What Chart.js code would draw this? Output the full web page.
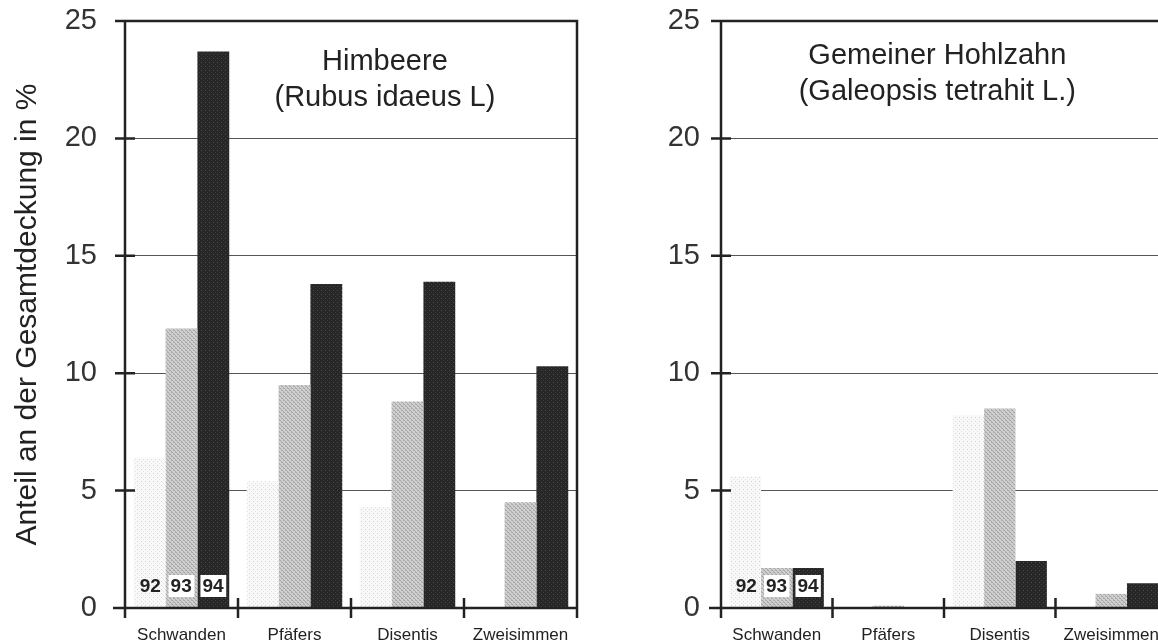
<!DOCTYPE html>
<html>
<head>
<meta charset="utf-8">
<script src="https://cdn.jsdelivr.net/npm/chart.js@4.4.0/dist/chart.umd.min.js"></script>
<style>
  html, body { margin: 0; padding: 0; background: #fff; overflow: hidden; }
  #wrap { position: relative; width: 1158px; height: 642px; overflow: hidden; }
  #leftBox { position: absolute; left: 0; top: 0; width: 590px; height: 642px; }
  #rightBox { position: absolute; left: 590px; top: 0; width: 590px; height: 642px; }
</style>
</head>
<body>
<div id="wrap">
  <div id="leftBox"><canvas id="himbeereChart"></canvas></div>
  <div id="rightBox"><canvas id="hohlzahnChart"></canvas></div>
</div>
<script>
// data (percent of total cover)
const sites = ["Schwanden", "Pfäfers", "Disentis", "Zweisimmen"];
const years = ["92", "93", "94"];
const yTicks = [0, 5, 10, 15, 20, 25];

const himbeere92 = [6.4, 5.4, 4.3, 0];
const himbeere93 = [11.9, 9.5, 8.8, 4.5];
const himbeere94 = [23.7, 13.8, 13.9, 10.3];

const hohlzahn92 = [5.6, 0, 8.2, 0];
const hohlzahn93 = [1.7, 0.1, 8.5, 0.6];
const hohlzahn94 = [1.7, 0, 2.0, 1.05];

const FONT = '"Liberation Sans", Arial, Helvetica, sans-serif';
Chart.defaults.font.family = FONT;
Chart.defaults.color = "#222";

function makePattern(bg, dots) {
  const c = document.createElement("canvas");
  c.width = 4; c.height = 4;
  const g = c.getContext("2d");
  g.fillStyle = bg;
  g.fillRect(0, 0, 4, 4);
  dots.forEach(d => {
    g.fillStyle = d[2];
    g.fillRect(d[0], d[1], 1, 1);
  });
  return g.createPattern(c, "repeat");
}

const fill92 = makePattern("#f8f8f8", [[1, 1, "#d6d6d6"], [3, 3, "#e2e2e2"]]);
const fill93 = makePattern("#d0d0d0", [[0, 0, "#a2a2a2"], [1, 1, "#acacac"], [2, 2, "#a2a2a2"], [3, 3, "#acacac"], [3, 0, "#b0b0b0"], [1, 2, "#b0b0b0"]]);
const fill94 = makePattern("#272727", [[1, 2, "#4a4a4a"], [3, 0, "#3c3c3c"]]);

const framePlugin = {
  id: "frame",
  afterDraw(chart) {
    const { ctx, chartArea: a } = chart;
    const x = chart.scales.x, y = chart.scales.y;
    ctx.save();
    ctx.strokeStyle = "#222";
    ctx.lineWidth = 2.5;
    ctx.beginPath();
    ctx.moveTo(a.left, a.top); ctx.lineTo(a.left, a.bottom + 10);
    ctx.moveTo(a.left - 12, a.bottom); ctx.lineTo(a.right, a.bottom);
    ctx.moveTo(a.left, a.top); ctx.lineTo(a.right, a.top); ctx.lineTo(a.right, a.bottom + 10);
    y.ticks.forEach((t, i) => {
      const py = y.getPixelForTick(i);
      ctx.moveTo(a.left - 10, py); ctx.lineTo(a.left + 10, py);
    });
    for (let i = 0; i <= x.ticks.length; i++) {
      const px = x.getPixelForValue(i - 0.5);
      ctx.moveTo(px, a.bottom - 10); ctx.lineTo(px, a.bottom + 10);
    }
    ctx.stroke();
    ctx.restore();
  }
};

const yearTagPlugin = {
  id: "yearTags",
  afterDatasetsDraw(chart) {
    const { ctx } = chart;
    const base = chart.scales.y.getPixelForValue(0);
    ctx.save();
    ctx.font = "bold 19px " + FONT;
    ctx.textBaseline = "middle";
    ctx.textAlign = "left";
    years.forEach((yr, i) => {
      const bar = chart.getDatasetMeta(i).data[0];
      const left = bar.x - bar.width / 2;
      ctx.save();
      if (i > 0) {
        ctx.fillStyle = "#fff";
        ctx.beginPath();
        ctx.rect(left + 3, base - 33, bar.width - 6, 22);
        ctx.fill();
        ctx.clip();
      }
      ctx.fillStyle = "#222";
      ctx.fillText(yr, left + (i > 0 ? 5 : 6), base - 21);
      ctx.restore();
    });
    ctx.restore();
  }
};

const titlePlugin = {
  id: "plotTitle",
  afterDraw(chart, args, opts) {
    const { ctx, chartArea: a } = chart;
    ctx.save();
    ctx.font = "29px " + FONT;
    ctx.fillStyle = "#222";
    ctx.textAlign = "center";
    ctx.textBaseline = "middle";
    const cx = a.left + (a.right - a.left) * opts.pos;
    opts.lines.forEach((t, i) => ctx.fillText(t, cx, opts.top + i * 36));
    ctx.restore();
  }
};

function buildChart(canvasId, d92, d93, d94, titleLines, titlePos, titleTop, axisWidth, labelPad, showTitle) {
  return new Chart(document.getElementById(canvasId), {
    type: "bar",
    data: {
      labels: sites,
      datasets: [
        { label: years[0], data: d92, backgroundColor: fill92 },
        { label: years[1], data: d93, backgroundColor: fill93 },
        { label: years[2], data: d94, backgroundColor: fill94 }
      ]
    },
    options: {
      responsive: true,
      maintainAspectRatio: false,
      animation: false,
      layout: { padding: { left: 0, right: 13, top: 21, bottom: 0 } },
      datasets: { bar: { categoryPercentage: 0.845, barPercentage: 1.0, borderWidth: 0 } },
      scales: {
        x: {
          grid: { display: false },
          border: { display: false },
          ticks: { font: { size: 17 }, color: "#222", padding: 9, maxRotation: 0 },
          afterFit: s => { s.height = 34; s.paddingLeft = 0; s.paddingRight = 0; }
        },
        y: {
          min: 0,
          max: 25,
          afterBuildTicks: s => { s.ticks = yTicks.map(v => ({ value: v })); },
          grid: {
            drawTicks: false,
            lineWidth: 1,
            color: c => (c.tick && (c.tick.value === 0 || c.tick.value === 25)) ? "rgba(0,0,0,0)" : "#555"
          },
          border: { display: false },
          ticks: { font: { size: 29 }, color: "#333", padding: labelPad },
          title: {
            display: showTitle,
            text: "Anteil an der Gesamtdeckung in %",
            font: { size: 30 },
            color: "#222",
            padding: { top: 10, bottom: 0 }
          },
          afterFit: s => { s.width = axisWidth; s.paddingTop = 0; s.paddingBottom = 0; }
        }
      },
      plugins: {
        legend: { display: false },
        tooltip: { enabled: false },
        plotTitle: { lines: titleLines, pos: titlePos, top: titleTop }
      }
    },
    plugins: [framePlugin, yearTagPlugin, titlePlugin]
  });
}

buildChart("himbeereChart", himbeere92, himbeere93, himbeere94,
  ["Himbeere", "(Rubus idaeus L)"], 0.575, 62, 125, 28, true);
buildChart("hohlzahnChart", hohlzahn92, hohlzahn93, hohlzahn94,
  ["Gemeiner Hohlzahn", "(Galeopsis tetrahit L.)"], 0.485, 56, 131, 21, false);
</script>
</body>
</html>
